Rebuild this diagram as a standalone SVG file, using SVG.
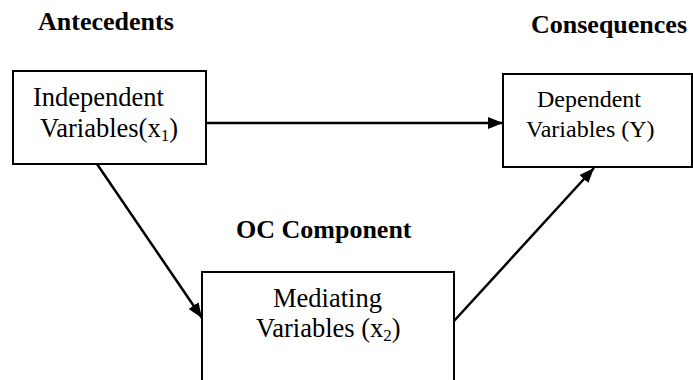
<svg xmlns="http://www.w3.org/2000/svg" width="693" height="380" viewBox="0 0 693 380">
<defs>
<marker id="arr" markerUnits="userSpaceOnUse" markerWidth="16" markerHeight="12" refX="15" refY="6" orient="auto">
<path d="M0,0 L15,6 L0,12 Z" fill="#000"/>
</marker>
<style>
.box{fill:#fff;stroke:#000;stroke-width:2}
.t{font-family:"Liberation Serif","Times New Roman",serif;fill:#000}
.h{font-family:"Liberation Serif","Times New Roman",serif;font-weight:bold;font-size:26px;fill:#000}
.c{stroke:#000;stroke-width:2.5;fill:none;marker-end:url(#arr)}
</style>
</defs>
<rect width="693" height="380" fill="#fff"/>
<text class="h" x="38" y="30">Antecedents</text>
<text class="h" x="531" y="33">Consequences</text>
<text class="h" x="236" y="238">OC Component</text>
<g id="connectors">
<line class="c" x1="207" y1="123" x2="503" y2="123"/>
<line class="c" x1="97" y1="164" x2="202" y2="318"/>
<line class="c" x1="454" y1="321" x2="594" y2="168"/>
</g>
<g id="independent">
<rect class="box" x="13" y="71" width="193" height="93"/>
<text class="t" font-size="26.5" x="33" y="106">Independent</text>
<text class="t" font-size="26.5" x="40" y="137">Variables(x<tspan font-size="17" dy="4">1</tspan><tspan dy="-4">)</tspan></text>
</g>
<g id="dependent">
<rect class="box" x="503" y="74" width="189" height="93"/>
<text class="t" font-size="24" x="537" y="107">Dependent</text>
<text class="t" font-size="24" x="526" y="137">Variables (Y)</text>
</g>
<g id="mediating">
<rect class="box" x="202" y="272" width="252" height="130"/>
<text class="t" font-size="26.5" x="273" y="307">Mediating</text>
<text class="t" font-size="26.5" x="256" y="337">Variables (x<tspan font-size="17" dy="4">2</tspan><tspan dy="-4">)</tspan></text>
</g>
</svg>
